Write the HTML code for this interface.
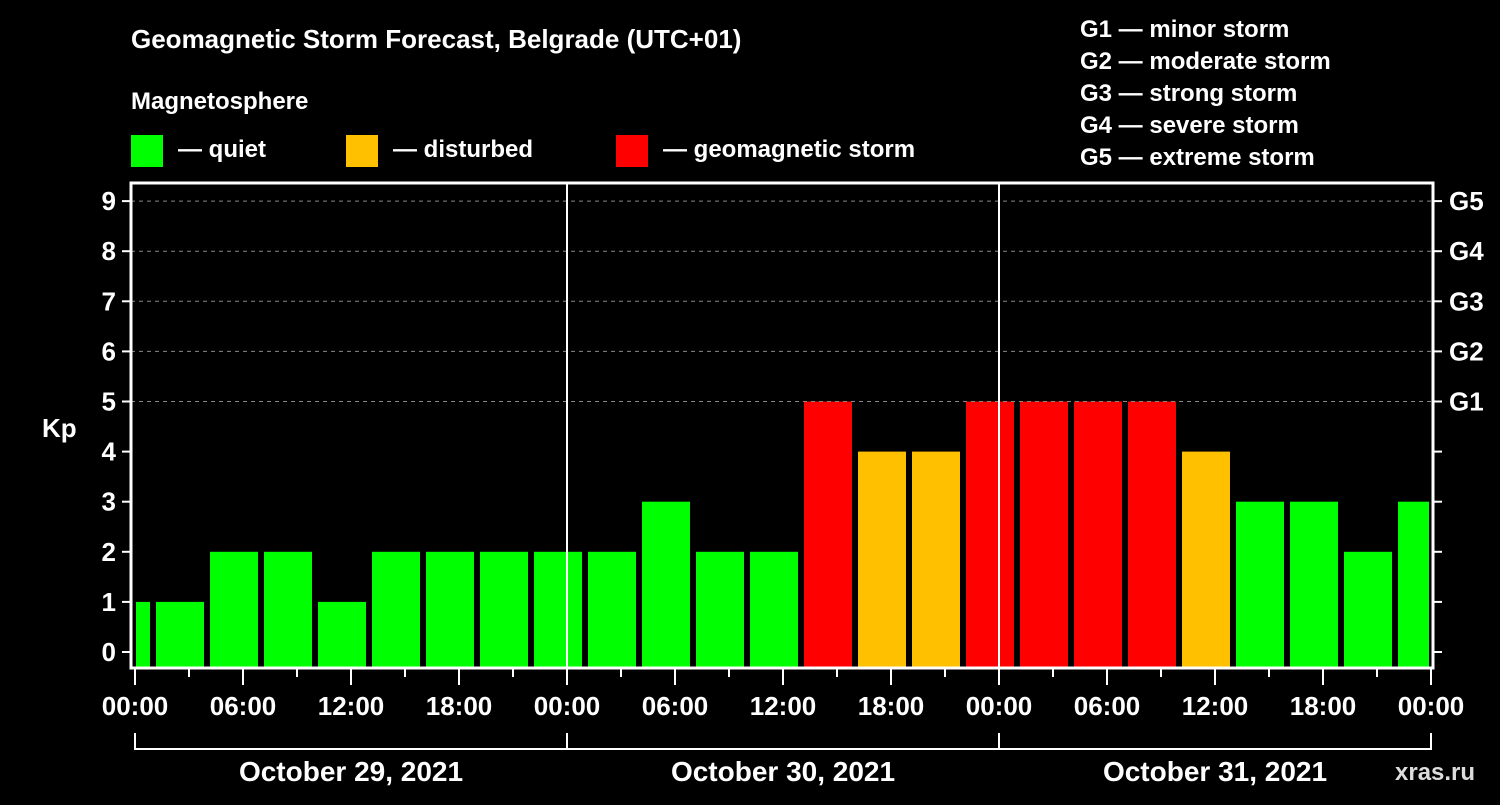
<!DOCTYPE html>
<html><head><meta charset="utf-8"><style>
body{margin:0;background:#000;width:1500px;height:800px;overflow:hidden;font-family:"Liberation Sans",sans-serif}
svg text{font-family:"Liberation Sans",sans-serif;font-weight:bold;fill:#fff}
</style></head><body>
<svg id="c" width="1500" height="800">
<text x="131" y="48" font-size="26">Geomagnetic Storm Forecast, Belgrade (UTC+01)</text>
<text x="131" y="109" font-size="24">Magnetosphere</text>
<rect x="131" y="135" width="32" height="32" fill="#00ff00"/>
<text x="178" y="157" font-size="24">— quiet</text>
<rect x="346" y="135" width="32" height="32" fill="#ffc000"/>
<text x="393" y="157" font-size="24">— disturbed</text>
<rect x="616" y="135" width="32" height="32" fill="#ff0000"/>
<text x="663" y="157" font-size="24">— geomagnetic storm</text>
<g font-size="24">
<text x="1080" y="37">G1 — minor storm</text>
<text x="1080" y="69">G2 — moderate storm</text>
<text x="1080" y="101">G3 — strong storm</text>
<text x="1080" y="133">G4 — severe storm</text>
<text x="1080" y="165">G5 — extreme storm</text>
</g>
<text x="42" y="437" font-size="26">Kp</text>
<text x="1395" y="780" font-size="24" fill="#fff" style="fill:#ddd">xras.ru</text>
<g id="plot"></g>
</svg>
<script>
const values=[1,1,2,2,1,2,2,2,2,2,3,2,2,5,4,4,5,5,5,5,4,3,3,2,3];
const yTicks=[0,1,2,3,4,5,6,7,8,9];
const gLabels=["G1","G2","G3","G4","G5"];
const xLabels=["00:00","06:00","12:00","18:00"];
const days=["October 29, 2021","October 30, 2021","October 31, 2021"];
const L=131,R=1433,T=183,B=668,X0=135,PXH=18;
const y=v=>652-v*50.1;
const x=h=>X0+h*PXH;
const NS="http://www.w3.org/2000/svg";
const g=document.getElementById('plot');
function mk(t,a){const e=document.createElementNS(NS,t);for(const k in a)e.setAttribute(k,a[k]);g.appendChild(e);return e;}
// bars
values.forEach((v,i)=>{
 let x1=x(-2+3*i)+3,x2=x1+48;
 x1=Math.max(x1,L+5);x2=Math.min(x2,R-4);
 const col=v>=5?"#ff0000":v>=4?"#ffc000":"#00ff00";
 const r=mk('rect',{x:x1,y:y(v),width:x2-x1,height:B-y(v),fill:col});
 
 
});
// gridlines 5..9
yTicks.filter(v=>v>=5).forEach(v=>{
 const l=mk('line',{x1:L,x2:R,y1:y(v),y2:y(v),stroke:"#888","stroke-dasharray":"4,4","stroke-width":1});
 
 
});
// day separators
[1,2].forEach(d=>{
 const l=mk('line',{x1:x(24*d),x2:x(24*d),y1:T,y2:B,stroke:"#fff","stroke-width":2});
 
 
});
const fr=mk('rect',{x:L,y:T,width:R-L,height:B-T,fill:"none",stroke:"#fff","stroke-width":3});


yTicks.forEach(v=>{
 mk('line',{x1:122,x2:L,y1:y(v),y2:y(v),stroke:"#fff","stroke-width":2});
 mk('line',{x1:R,x2:1442,y1:y(v),y2:y(v),stroke:"#fff","stroke-width":2});
 const t=mk('text',{x:116,y:y(v)+9,"font-size":26,"text-anchor":"end"});t.textContent=v;
 
 
});
gLabels.forEach((s,i)=>{
 const t=mk('text',{x:1449,y:y(5+i)+9,"font-size":26});t.textContent=s;
 
 
});
for(let h=0;h<=72;h+=3){
 mk('line',{x1:x(h),x2:x(h),y1:B,y2:h%6==0?685:677,stroke:"#fff","stroke-width":2});
 if(h%6==0){const t=mk('text',{x:x(h),y:715,"font-size":26,"text-anchor":"middle"});t.textContent=xLabels[(h/6)%4];
 
 }
}
mk('line',{x1:x(0),x2:x(72),y1:749,y2:749,stroke:"#fff","stroke-width":2});
for(let d=0;d<=3;d++)mk('line',{x1:x(24*d),x2:x(24*d),y1:733,y2:750,stroke:"#fff","stroke-width":2});
days.forEach((s,d)=>{
 const t=mk('text',{x:x(24*d+12),y:781,"font-size":28,"text-anchor":"middle"});t.textContent=s;
 
 
});
</script>
</body></html>
